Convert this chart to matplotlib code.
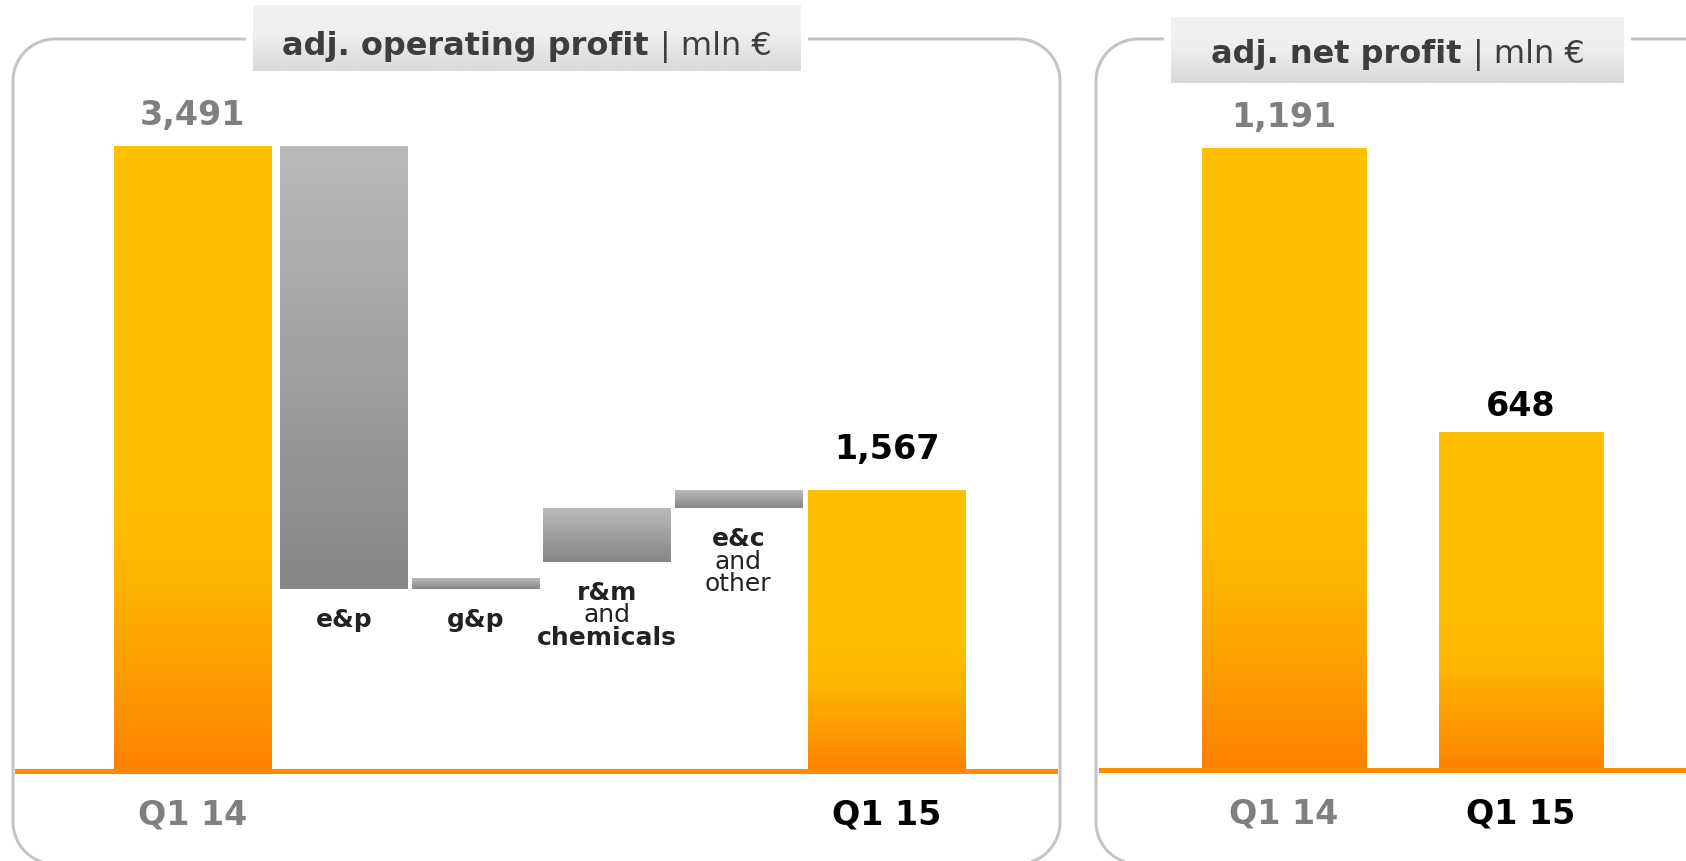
import numpy as np
import matplotlib
matplotlib.use("Agg")
import matplotlib.pyplot as plt
from matplotlib.colors import LinearSegmentedColormap
from matplotlib.patches import Polygon, Rectangle

# adj. operating profit bridge | mln €
total_labels = ["Q1 14", "Q1 15"]
total_values = [3491, 1567]
step_names = [["e&p"], ["g&p"], ["r&m", "and", "chemicals"], ["e&c", "and", "other"]]
step_low = [1017, 1017, 1168, 1469]
step_high = [3491, 1078, 1469, 1567]

# adj. net profit | mln €
net_labels = ["Q1 14", "Q1 15"]
net_values = [1191, 648]

W, H = 1686, 861
PT = 0.72  # points per pixel at dpi 100
plt.rcParams["font.family"] = "DejaVu Sans"

orange = LinearSegmentedColormap.from_list(
    "orange", [(0, "#ff8000"), (0.12, "#fd9800"), (0.3, "#feb400"), (0.45, "#ffc000"), (1, "#ffc000")])
grey = LinearSegmentedColormap.from_list("grey", ["#868686", "#bababa"])
title_grey = LinearSegmentedColormap.from_list(
    "title_grey", [(0, "#d9d9d9"), (0.55, "#efefef"), (1, "#f2f2f2")])
ramp = np.linspace(0, 1, 256).reshape(-1, 1)


def px_axes(x0, x1, y0, y1, zorder=1):
    ax = fig.add_axes([x0 / W, 1 - y1 / H, (x1 - x0) / W, (y1 - y0) / H], zorder=zorder)
    ax.set_facecolor("none")
    ax.axis("off")
    return ax


def rounded_frame(x0, y0, x1, y1, r=42):
    # polyline corners so that clipping at the canvas edge stays clean
    t = np.linspace(0, np.pi / 2, 24)
    pts = []
    for cx, cy, a0 in [(x0 + r, y0 + r, np.pi), (x1 - r, y0 + r, 1.5 * np.pi),
                       (x1 - r, y1 - r, 0), (x0 + r, y1 - r, 0.5 * np.pi)]:
        pts += list(zip(cx + r * np.cos(a0 + t), cy + r * np.sin(a0 + t)))
    bg.add_patch(Polygon(pts, closed=True, fc="none", ec="#c4c4c4", lw=3 * PT, zorder=1))


def fill_gradient(ax, bars, cmap):
    for b in bars:
        x0, y0 = b.get_x(), b.get_y()
        ax.imshow(ramp, cmap=cmap, origin="lower", aspect="auto", interpolation="bilinear",
                  extent=(x0, x0 + b.get_width(), y0, y0 + b.get_height()), zorder=2)


def value_label(ax, x, v, color, off):
    ax.annotate(f"{v:,}", (x, v), xytext=(0, off * PT), textcoords="offset points",
                ha="center", va="center", fontsize=24, fontweight="bold", color=color)


def period_label(ax, x, text, color):
    ax.annotate(text, (x, 0), xytext=(0, -44 * PT), textcoords="offset points",
                ha="center", va="center", fontsize=24, fontweight="bold", color=color)


def title(cx, baseline, bold):
    r = fig.canvas.get_renderer()
    t1 = bg.text(0, baseline, bold, fontsize=23, fontweight="bold", color="#3d3d3d",
                 va="baseline", zorder=5)
    t2 = bg.text(0, baseline, "| mln €", fontsize=23, color="#3d3d3d", va="baseline", zorder=5)
    w1 = t1.get_window_extent(r).width
    w2 = t2.get_window_extent(r).width
    gap = 12
    x = cx - (w1 + gap + w2) / 2
    t1.set_x(x)
    t2.set_x(x + w1 + gap)


def title_box(x0, x1, y0, y1, cx, baseline, bold):
    bg.add_patch(Rectangle((x0 - 7, y0 - 10), x1 - x0 + 14, y1 - y0 + 20, fc="white",
                           ec="none", zorder=2))
    bg.imshow(np.linspace(1, 0, 64).reshape(-1, 1), cmap=title_grey, origin="upper",
              aspect="auto", interpolation="bilinear", extent=(x0, x1, y1, y0), zorder=3)
    title(cx, baseline, bold)


fig = plt.figure(figsize=(W / 100, H / 100), dpi=100)

# background layer in pixel coordinates (y down)
bg = fig.add_axes([0, 0, 1, 1], zorder=0)
bg.axis("off")
rounded_frame(13, 39, 1060, 864)
rounded_frame(1096, 39, 1800, 864)
title_box(253, 801, 5, 71, 527, 55, "adj. operating profit")
title_box(1171, 1624, 17, 83, 1398, 63, "adj. net profit")
bg.set_xlim(0, W)
bg.set_ylim(H, 0)

# left panel: operating profit bridge
s, base = 0.179, 771
ax = px_axes(15, 1058, 40, 861)
total_pos = [0, 5.28]
step_pos = [1.15 + i for i in range(len(step_names))]
tb = ax.bar(total_pos, total_values, width=1.194, color="#ffc000", zorder=1)
sb = ax.bar(step_pos, np.subtract(step_high, step_low), bottom=step_low, width=0.97,
            color="#a0a0a0", zorder=1)
fill_gradient(ax, tb, orange)
fill_gradient(ax, sb, grey)
ax.axhline(0, color="#ff8c00", lw=5 * PT, zorder=3)
for x, v, lab, c, off in zip(total_pos, total_values, total_labels,
                             ["#7f7f7f", "#000000"], [31, 41]):
    value_label(ax, x, v, c, off)
    period_label(ax, x, lab, c)
for x, low, lines in zip(step_pos, step_low, step_names):
    for j, line in enumerate(lines):
        ax.annotate(line, (x, low), xytext=(0, -(31 + 22.5 * j) * PT), textcoords="offset points",
                    ha="center", va="center", fontsize=18, color="#222222",
                    fontweight="normal" if line in ("and", "other") else "bold")
ax.set_xlim(-1.35, 6.58)
ax.set_ylim(-(H - base) / s, (base - 40) / s)

# right panel: net profit
s, base = 0.5215, 770
ax2 = px_axes(1099, 1686, 40, 861)
net_pos = [0, 1]
nb = ax2.bar(net_pos, net_values, width=0.696, color="#ffc000", zorder=1)
fill_gradient(ax2, nb, orange)
ax2.axhline(0, color="#ff8c00", lw=5 * PT, zorder=3)
for x, v, lab, c, off in zip(net_pos, net_values, net_labels,
                             ["#7f7f7f", "#000000"], [31, 26]):
    value_label(ax2, x, v, c, off)
    period_label(ax2, x, lab, c)
ax2.set_xlim(-0.781, 1.696)
ax2.set_ylim(-(H - base) / s, (base - 40) / s)

fig.savefig("out.png", dpi=100)
